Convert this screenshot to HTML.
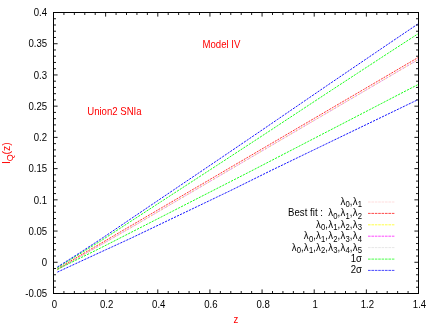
<!DOCTYPE html><html><head><meta charset="utf-8"><style>html,body{margin:0;padding:0;background:#fff}</style></head><body><svg width="436" height="327" viewBox="0 0 436 327" style="display:block;font-family:'Liberation Sans',sans-serif;will-change:transform"><rect x="0" y="0" width="436" height="327" fill="#fff"/><path d="M57.40 269.70L63.52 266.20L69.64 262.70L75.76 259.20L81.88 255.70L88.00 252.20L94.12 248.70L100.24 245.20L106.36 241.70L112.48 238.20L118.60 234.70L124.72 231.20L130.84 227.68L136.96 224.10L143.08 220.52L149.21 216.94L155.33 213.36L161.45 209.78L167.57 206.20L173.69 202.62L179.81 199.04L185.93 195.46L192.05 191.88L198.17 188.30L204.29 184.72L210.41 181.14L216.53 177.56L222.65 173.98L228.77 170.40L234.89 166.82L241.01 163.23L247.13 159.65L253.25 156.07L259.37 152.49L265.49 148.91L271.61 145.33L277.73 141.75L283.85 138.17L289.97 134.59L296.09 131.01L302.21 127.43L308.33 123.85L314.45 120.27L320.57 116.69L326.69 113.11L332.82 109.53L338.94 105.95L345.06 102.37L351.18 98.79L357.30 95.21L363.42 91.62L369.54 88.04L375.66 84.46L381.78 80.88L387.90 77.30L394.02 73.72L400.14 70.14L406.26 66.56L412.38 62.98L418.50 59.40" fill="none" stroke="#ffc8c8" stroke-width="1.0" stroke-dasharray="2 1" stroke-opacity="0.9"/><path d="M57.40 268.80L63.52 265.22L69.64 261.63L75.76 258.05L81.88 254.46L88.00 250.88L94.12 247.29L100.24 243.71L106.36 240.12L112.48 236.54L118.60 232.95L124.72 229.37L130.84 225.78L136.96 222.20L143.08 218.61L149.21 215.03L155.33 211.44L161.45 207.86L167.57 204.27L173.69 200.69L179.81 197.11L185.93 193.52L192.05 189.94L198.17 186.35L204.29 182.77L210.41 179.18L216.53 175.60L222.65 172.01L228.77 168.43L234.89 164.84L241.01 161.26L247.13 157.67L253.25 154.09L259.37 150.50L265.49 146.92L271.61 143.33L277.73 139.75L283.85 136.16L289.97 132.58L296.09 128.99L302.21 125.41L308.33 121.83L314.45 118.24L320.57 114.66L326.69 111.07L332.82 107.49L338.94 103.90L345.06 100.32L351.18 96.73L357.30 93.15L363.42 89.56L369.54 85.98L375.66 82.39L381.78 78.81L387.90 75.22L394.02 71.64L400.14 68.05L406.26 64.47L412.38 60.88L418.50 57.30" fill="none" stroke="#ff0000" stroke-width="1.0" stroke-dasharray="2 1" stroke-opacity="0.8"/><path d="M57.40 269.70L63.52 266.20L69.64 262.70L75.76 259.20L81.88 255.70L88.00 252.20L94.12 248.70L100.24 245.20L106.36 241.70L112.48 238.20L118.60 234.70L124.72 231.20L130.84 227.68L136.96 224.10L143.08 220.52L149.21 216.94L155.33 213.36L161.45 209.78L167.57 206.20L173.69 202.62L179.81 199.04L185.93 195.46L192.05 191.88L198.17 188.30L204.29 184.72L210.41 181.14L216.53 177.56L222.65 173.98L228.77 170.40L234.89 166.82L241.01 163.23L247.13 159.65L253.25 156.07L259.37 152.49L265.49 148.91L271.61 145.33L277.73 141.75L283.85 138.17L289.97 134.59L296.09 131.01L302.21 127.43L308.33 123.85L314.45 120.27L320.57 116.69L326.69 113.11L332.82 109.53L338.94 105.95L345.06 102.37L351.18 98.79L357.30 95.21L363.42 91.62L369.54 88.04L375.66 84.46L381.78 80.88L387.90 77.30L394.02 73.72L400.14 70.14L406.26 66.56L412.38 62.98L418.50 59.40" fill="none" stroke="#ff00ff" stroke-width="1.0" stroke-dasharray="2.5 1.5" stroke-opacity="0.3"/><path d="M57.40 269.70L63.52 266.20L69.64 262.70L75.76 259.20L81.88 255.70L88.00 252.20L94.12 248.70L100.24 245.20L106.36 241.70L112.48 238.20L118.60 234.70L124.72 231.20L130.84 227.68L136.96 224.10L143.08 220.52L149.21 216.94L155.33 213.36L161.45 209.78L167.57 206.20L173.69 202.62L179.81 199.04L185.93 195.46L192.05 191.88L198.17 188.30L204.29 184.72L210.41 181.14L216.53 177.56L222.65 173.98L228.77 170.40L234.89 166.82L241.01 163.23L247.13 159.65L253.25 156.07L259.37 152.49L265.49 148.91L271.61 145.33L277.73 141.75L283.85 138.17L289.97 134.59L296.09 131.01L302.21 127.43L308.33 123.85L314.45 120.27L320.57 116.69L326.69 113.11L332.82 109.53L338.94 105.95L345.06 102.37L351.18 98.79L357.30 95.21L363.42 91.62L369.54 88.04L375.66 84.46L381.78 80.88L387.90 77.30L394.02 73.72L400.14 70.14L406.26 66.56L412.38 62.98L418.50 59.40" fill="none" stroke="#b0b0d0" stroke-width="1.0" stroke-dasharray="2 3" stroke-opacity="0.5"/><path d="M57.40 269.70L63.52 266.20L69.64 262.70L75.76 259.20L81.88 255.70L88.00 252.20L94.12 248.70L100.24 245.20L106.36 241.70L112.48 238.20L118.60 234.70L124.72 231.20L130.84 227.68L136.96 224.10L143.08 220.52L149.21 216.94L155.33 213.36L161.45 209.78L167.57 206.20L173.69 202.62L179.81 199.04L185.93 195.46L192.05 191.88L198.17 188.30L204.29 184.72L210.41 181.14L216.53 177.56L222.65 173.98L228.77 170.40L234.89 166.82L241.01 163.23L247.13 159.65L253.25 156.07L259.37 152.49L265.49 148.91L271.61 145.33L277.73 141.75L283.85 138.17L289.97 134.59L296.09 131.01L302.21 127.43L308.33 123.85L314.45 120.27L320.57 116.69L326.69 113.11L332.82 109.53L338.94 105.95L345.06 102.37L351.18 98.79L357.30 95.21L363.42 91.62L369.54 88.04L375.66 84.46L381.78 80.88L387.90 77.30L394.02 73.72L400.14 70.14L406.26 66.56L412.38 62.98L418.50 59.40" fill="none" stroke="#ffff00" stroke-width="1.0" stroke-dasharray="1.2 4.8" stroke-opacity="0.6"/><path d="M57.40 267.60L63.52 263.88L69.64 260.15L75.76 256.43L81.88 252.67L88.00 248.84L94.12 245.01L100.24 241.19L106.36 237.25L112.48 233.27L118.60 229.29L124.72 225.31L130.84 221.33L136.96 217.35L143.08 213.37L149.21 209.38L155.33 205.41L161.45 201.43L167.57 197.45L173.69 193.48L179.81 189.50L185.93 185.52L192.05 181.55L198.17 177.57L204.29 173.60L210.41 169.62L216.53 165.64L222.65 161.66L228.77 157.66L234.89 153.66L241.01 149.66L247.13 145.66L253.25 141.66L259.37 137.67L265.49 133.64L271.61 129.61L277.73 125.58L283.85 121.55L289.97 117.52L296.09 113.50L302.21 109.47L308.33 105.44L314.45 101.41L320.57 97.38L326.69 93.35L332.82 89.34L338.94 85.34L345.06 81.34L351.18 77.34L357.30 73.34L363.42 69.34L369.54 65.34L375.66 61.35L381.78 57.35L387.90 53.35L394.02 49.37L400.14 45.40L406.26 41.44L412.38 37.47L418.50 33.50" fill="none" stroke="#00ff00" stroke-width="1.0" stroke-dasharray="2.2 1.1" stroke-opacity="0.9"/><path d="M57.40 269.30L63.52 266.28L69.64 263.26L75.76 260.24L81.88 257.22L88.00 254.20L94.12 251.18L100.24 248.15L106.36 245.02L112.48 241.90L118.60 238.77L124.72 235.64L130.84 232.51L136.96 229.39L143.08 226.26L149.21 223.13L155.33 220.00L161.45 216.88L167.57 213.75L173.69 210.62L179.81 207.49L185.93 204.37L192.05 201.24L198.17 198.11L204.29 194.98L210.41 191.86L216.53 188.73L222.65 185.60L228.77 182.48L234.89 179.35L241.01 176.22L247.13 173.09L253.25 169.94L259.37 166.77L265.49 163.60L271.61 160.43L277.73 157.26L283.85 154.09L289.97 150.93L296.09 147.76L302.21 144.59L308.33 141.42L314.45 138.25L320.57 135.08L326.69 131.91L332.82 128.74L338.94 125.57L345.06 122.39L351.18 119.22L357.30 116.05L363.42 112.87L369.54 109.70L375.66 106.52L381.78 103.35L387.90 100.17L394.02 97.00L400.14 93.82L406.26 90.65L412.38 87.47L418.50 84.30" fill="none" stroke="#00ff00" stroke-width="1.0" stroke-dasharray="2.2 1.1" stroke-opacity="0.9"/><path d="M57.40 267.00L63.52 263.12L69.64 259.24L75.76 255.35L81.88 251.44L88.00 247.45L94.12 243.47L100.24 239.48L106.36 235.39L112.48 231.25L118.60 227.11L124.72 222.97L130.84 218.83L136.96 214.70L143.08 210.56L149.21 206.42L155.33 202.29L161.45 198.15L167.57 194.02L173.69 189.88L179.81 185.75L185.93 181.61L192.05 177.48L198.17 173.35L204.29 169.21L210.41 165.08L216.53 160.94L222.65 156.80L228.77 152.64L234.89 148.49L241.01 144.33L247.13 140.18L253.25 136.02L259.37 131.86L265.49 127.68L271.61 123.49L277.73 119.31L283.85 115.12L289.97 110.93L296.09 106.75L302.21 102.56L308.33 98.37L314.45 94.19L320.57 90.00L326.69 85.81L332.82 81.64L338.94 77.49L345.06 73.33L351.18 69.17L357.30 65.02L363.42 60.86L369.54 56.71L375.66 52.55L381.78 48.39L387.90 44.24L394.02 40.10L400.14 35.98L406.26 31.85L412.38 27.73L418.50 23.60" fill="none" stroke="#0000ff" stroke-width="1.0" stroke-dasharray="2.2 1.1" stroke-opacity="0.92"/><path d="M57.40 272.10L63.52 269.27L69.64 266.45L75.76 263.62L81.88 260.79L88.00 257.97L94.12 255.14L100.24 252.32L106.36 249.51L112.48 246.71L118.60 243.90L124.72 241.10L130.84 238.27L136.96 235.35L143.08 232.42L149.21 229.49L155.33 226.57L161.45 223.64L167.57 220.71L173.69 217.78L179.81 214.86L185.93 211.93L192.05 209.00L198.17 206.08L204.29 203.15L210.41 200.22L216.53 197.29L222.65 194.37L228.77 191.44L234.89 188.43L241.01 185.39L247.13 182.36L253.25 179.33L259.37 176.29L265.49 173.26L271.61 170.24L277.73 167.29L283.85 164.34L289.97 161.38L296.09 158.43L302.21 155.48L308.33 152.52L314.45 149.57L320.57 146.62L326.69 143.66L332.82 140.71L338.94 137.76L345.06 134.81L351.18 131.86L357.30 128.91L363.42 125.95L369.54 123.00L375.66 120.05L381.78 117.10L387.90 114.15L394.02 111.20L400.14 108.25L406.26 105.30L412.38 102.35L418.50 99.40" fill="none" stroke="#0000ff" stroke-width="1.0" stroke-dasharray="2.2 1.1" stroke-opacity="0.92"/><rect x="53.5" y="12.5" width="365.0" height="281.0" fill="none" stroke="#000" stroke-width="1"/><path d="M53.50 293.5v-4.1M53.50 12.5v4.1M63.93 293.5v-2.5M63.93 12.5v2.5M74.36 293.5v-2.5M74.36 12.5v2.5M84.79 293.5v-2.5M84.79 12.5v2.5M95.21 293.5v-2.5M95.21 12.5v2.5M105.64 293.5v-4.1M105.64 12.5v4.1M116.07 293.5v-2.5M116.07 12.5v2.5M126.50 293.5v-2.5M126.50 12.5v2.5M136.93 293.5v-2.5M136.93 12.5v2.5M147.36 293.5v-2.5M147.36 12.5v2.5M157.79 293.5v-4.1M157.79 12.5v4.1M168.21 293.5v-2.5M168.21 12.5v2.5M178.64 293.5v-2.5M178.64 12.5v2.5M189.07 293.5v-2.5M189.07 12.5v2.5M199.50 293.5v-2.5M199.50 12.5v2.5M209.93 293.5v-4.1M209.93 12.5v4.1M220.36 293.5v-2.5M220.36 12.5v2.5M230.79 293.5v-2.5M230.79 12.5v2.5M241.21 293.5v-2.5M241.21 12.5v2.5M251.64 293.5v-2.5M251.64 12.5v2.5M262.07 293.5v-4.1M262.07 12.5v4.1M272.50 293.5v-2.5M272.50 12.5v2.5M282.93 293.5v-2.5M282.93 12.5v2.5M293.36 293.5v-2.5M293.36 12.5v2.5M303.79 293.5v-2.5M303.79 12.5v2.5M314.21 293.5v-4.1M314.21 12.5v4.1M324.64 293.5v-2.5M324.64 12.5v2.5M335.07 293.5v-2.5M335.07 12.5v2.5M345.50 293.5v-2.5M345.50 12.5v2.5M355.93 293.5v-2.5M355.93 12.5v2.5M366.36 293.5v-4.1M366.36 12.5v4.1M376.79 293.5v-2.5M376.79 12.5v2.5M387.21 293.5v-2.5M387.21 12.5v2.5M397.64 293.5v-2.5M397.64 12.5v2.5M408.07 293.5v-2.5M408.07 12.5v2.5M418.50 293.5v-4.1M418.50 12.5v4.1M53.5 293.50h4.1M418.5 293.50h-4.1M53.5 287.26h2.5M418.5 287.26h-2.5M53.5 281.01h2.5M418.5 281.01h-2.5M53.5 274.77h2.5M418.5 274.77h-2.5M53.5 268.52h2.5M418.5 268.52h-2.5M53.5 262.28h4.1M418.5 262.28h-4.1M53.5 256.03h2.5M418.5 256.03h-2.5M53.5 249.79h2.5M418.5 249.79h-2.5M53.5 243.54h2.5M418.5 243.54h-2.5M53.5 237.30h2.5M418.5 237.30h-2.5M53.5 231.06h4.1M418.5 231.06h-4.1M53.5 224.81h2.5M418.5 224.81h-2.5M53.5 218.57h2.5M418.5 218.57h-2.5M53.5 212.32h2.5M418.5 212.32h-2.5M53.5 206.08h2.5M418.5 206.08h-2.5M53.5 199.83h4.1M418.5 199.83h-4.1M53.5 193.59h2.5M418.5 193.59h-2.5M53.5 187.34h2.5M418.5 187.34h-2.5M53.5 181.10h2.5M418.5 181.10h-2.5M53.5 174.86h2.5M418.5 174.86h-2.5M53.5 168.61h4.1M418.5 168.61h-4.1M53.5 162.37h2.5M418.5 162.37h-2.5M53.5 156.12h2.5M418.5 156.12h-2.5M53.5 149.88h2.5M418.5 149.88h-2.5M53.5 143.63h2.5M418.5 143.63h-2.5M53.5 137.39h4.1M418.5 137.39h-4.1M53.5 131.14h2.5M418.5 131.14h-2.5M53.5 124.90h2.5M418.5 124.90h-2.5M53.5 118.66h2.5M418.5 118.66h-2.5M53.5 112.41h2.5M418.5 112.41h-2.5M53.5 106.17h4.1M418.5 106.17h-4.1M53.5 99.92h2.5M418.5 99.92h-2.5M53.5 93.68h2.5M418.5 93.68h-2.5M53.5 87.43h2.5M418.5 87.43h-2.5M53.5 81.19h2.5M418.5 81.19h-2.5M53.5 74.94h4.1M418.5 74.94h-4.1M53.5 68.70h2.5M418.5 68.70h-2.5M53.5 62.46h2.5M418.5 62.46h-2.5M53.5 56.21h2.5M418.5 56.21h-2.5M53.5 49.97h2.5M418.5 49.97h-2.5M53.5 43.72h4.1M418.5 43.72h-4.1M53.5 37.48h2.5M418.5 37.48h-2.5M53.5 31.23h2.5M418.5 31.23h-2.5M53.5 24.99h2.5M418.5 24.99h-2.5M53.5 18.74h2.5M418.5 18.74h-2.5M53.5 12.50h4.1M418.5 12.50h-4.1" stroke="#000" stroke-width="0.9" fill="none"/><g font-size="10.5px" fill="#000"><text transform="translate(47.10 297.25) scale(0.915 1)" text-anchor="end" xml:space="preserve">-0.05</text><text transform="translate(47.10 266.03) scale(0.915 1)" text-anchor="end" xml:space="preserve">0</text><text transform="translate(47.10 234.81) scale(0.915 1)" text-anchor="end" xml:space="preserve">0.05</text><text transform="translate(47.10 203.58) scale(0.915 1)" text-anchor="end" xml:space="preserve">0.1</text><text transform="translate(47.10 172.36) scale(0.915 1)" text-anchor="end" xml:space="preserve">0.15</text><text transform="translate(47.10 141.14) scale(0.915 1)" text-anchor="end" xml:space="preserve">0.2</text><text transform="translate(47.10 109.92) scale(0.915 1)" text-anchor="end" xml:space="preserve">0.25</text><text transform="translate(47.10 78.69) scale(0.915 1)" text-anchor="end" xml:space="preserve">0.3</text><text transform="translate(47.10 47.47) scale(0.915 1)" text-anchor="end" xml:space="preserve">0.35</text><text transform="translate(47.10 16.25) scale(0.915 1)" text-anchor="end" xml:space="preserve">0.4</text><text transform="translate(54.50 307.70) scale(0.915 1)" text-anchor="middle" xml:space="preserve">0</text><text transform="translate(106.64 307.70) scale(0.915 1)" text-anchor="middle" xml:space="preserve">0.2</text><text transform="translate(158.79 307.70) scale(0.915 1)" text-anchor="middle" xml:space="preserve">0.4</text><text transform="translate(210.93 307.70) scale(0.915 1)" text-anchor="middle" xml:space="preserve">0.6</text><text transform="translate(263.07 307.70) scale(0.915 1)" text-anchor="middle" xml:space="preserve">0.8</text><text transform="translate(315.21 307.70) scale(0.915 1)" text-anchor="middle" xml:space="preserve">1</text><text transform="translate(367.36 307.70) scale(0.915 1)" text-anchor="middle" xml:space="preserve">1.2</text><text transform="translate(419.50 307.70) scale(0.915 1)" text-anchor="middle" xml:space="preserve">1.4</text></g><g font-size="10.5px" fill="#ff0000"><text transform="translate(202.50 47.50) scale(0.915 1)" xml:space="preserve">Model IV</text><text transform="translate(87.20 114.70) scale(0.915 1)" xml:space="preserve">Union2 SNIa</text><text transform="translate(235.80 322.80) scale(0.915 1)" text-anchor="middle" xml:space="preserve">z</text><text transform="translate(9.90 164.00) scale(0.97 1) rotate(-90)" xml:space="preserve">I<tspan font-size="9px" dy="3.1" dx="-0.1">Q</tspan><tspan dy="-3.1" dx="-0.4">(z)</tspan></text></g><g font-size="10.5px" fill="#000"><line x1="368" y1="202" x2="395.2" y2="202" stroke="#ffd0d0" stroke-width="0.9" stroke-dasharray="2.6 0.8" stroke-opacity="0.8"/><text transform="translate(362.00 204.95) scale(0.915 1)" text-anchor="end" xml:space="preserve">λ<tspan font-size="8.4px" dy="2.5" dx="0.25">0</tspan><tspan dy="-2.5">,</tspan><tspan dx="0.25">λ</tspan><tspan font-size="8.4px" dy="2.5" dx="0.25">1</tspan></text><line x1="368" y1="213.4" x2="395.2" y2="213.4" stroke="#ff0000" stroke-width="0.9" stroke-dasharray="2.6 0.8" stroke-opacity="0.8"/><text transform="translate(362.00 216.35) scale(0.915 1)" text-anchor="end" xml:space="preserve"><tspan letter-spacing="0.05">Best fit : </tspan><tspan dx="2.7">λ</tspan><tspan font-size="8.4px" dy="2.5" dx="0.25">0</tspan><tspan dy="-2.5">,</tspan><tspan dx="0.25">λ</tspan><tspan font-size="8.4px" dy="2.5" dx="0.25">1</tspan><tspan dy="-2.5">,</tspan><tspan dx="0.25">λ</tspan><tspan font-size="8.4px" dy="2.5" dx="0.25">2</tspan></text><line x1="368" y1="224.8" x2="395.2" y2="224.8" stroke="#ffff00" stroke-width="0.9" stroke-dasharray="2.6 0.8" stroke-opacity="0.8"/><text transform="translate(362.00 227.75) scale(0.915 1)" text-anchor="end" xml:space="preserve">λ<tspan font-size="8.4px" dy="2.5" dx="0.25">0</tspan><tspan dy="-2.5">,</tspan><tspan dx="0.25">λ</tspan><tspan font-size="8.4px" dy="2.5" dx="0.25">1</tspan><tspan dy="-2.5">,</tspan><tspan dx="0.25">λ</tspan><tspan font-size="8.4px" dy="2.5" dx="0.25">2</tspan><tspan dy="-2.5">,</tspan><tspan dx="0.25">λ</tspan><tspan font-size="8.4px" dy="2.5" dx="0.25">3</tspan></text><line x1="368" y1="236.2" x2="395.2" y2="236.2" stroke="#ff00ff" stroke-width="0.9" stroke-dasharray="2.6 0.8" stroke-opacity="0.8"/><text transform="translate(362.00 239.15) scale(0.915 1)" text-anchor="end" xml:space="preserve">λ<tspan font-size="8.4px" dy="2.5" dx="0.25">0</tspan><tspan dy="-2.5">,</tspan><tspan dx="0.25">λ</tspan><tspan font-size="8.4px" dy="2.5" dx="0.25">1</tspan><tspan dy="-2.5">,</tspan><tspan dx="0.25">λ</tspan><tspan font-size="8.4px" dy="2.5" dx="0.25">2</tspan><tspan dy="-2.5">,</tspan><tspan dx="0.25">λ</tspan><tspan font-size="8.4px" dy="2.5" dx="0.25">3</tspan><tspan dy="-2.5">,</tspan><tspan dx="0.25">λ</tspan><tspan font-size="8.4px" dy="2.5" dx="0.25">4</tspan></text><line x1="368" y1="247.6" x2="395.2" y2="247.6" stroke="#dcdcdc" stroke-width="0.9" stroke-dasharray="2.6 0.8" stroke-opacity="0.8"/><text transform="translate(362.00 250.55) scale(0.915 1)" text-anchor="end" xml:space="preserve">λ<tspan font-size="8.4px" dy="2.5" dx="0.25">0</tspan><tspan dy="-2.5">,</tspan><tspan dx="0.25">λ</tspan><tspan font-size="8.4px" dy="2.5" dx="0.25">1</tspan><tspan dy="-2.5">,</tspan><tspan dx="0.25">λ</tspan><tspan font-size="8.4px" dy="2.5" dx="0.25">2</tspan><tspan dy="-2.5">,</tspan><tspan dx="0.25">λ</tspan><tspan font-size="8.4px" dy="2.5" dx="0.25">3</tspan><tspan dy="-2.5">,</tspan><tspan dx="0.25">λ</tspan><tspan font-size="8.4px" dy="2.5" dx="0.25">4</tspan><tspan dy="-2.5">,</tspan><tspan dx="0.25">λ</tspan><tspan font-size="8.4px" dy="2.5" dx="0.25">5</tspan></text><line x1="368" y1="259.1" x2="395.2" y2="259.1" stroke="#00ff00" stroke-width="0.9" stroke-dasharray="2.6 0.8" stroke-opacity="0.8"/><text transform="translate(362.00 261.95) scale(0.915 1)" text-anchor="end" xml:space="preserve">1σ</text><line x1="368" y1="270.4" x2="395.2" y2="270.4" stroke="#0000ff" stroke-width="0.9" stroke-dasharray="2.6 0.8" stroke-opacity="0.8"/><text transform="translate(362.00 273.35) scale(0.915 1)" text-anchor="end" xml:space="preserve">2σ</text></g></svg></body></html>
